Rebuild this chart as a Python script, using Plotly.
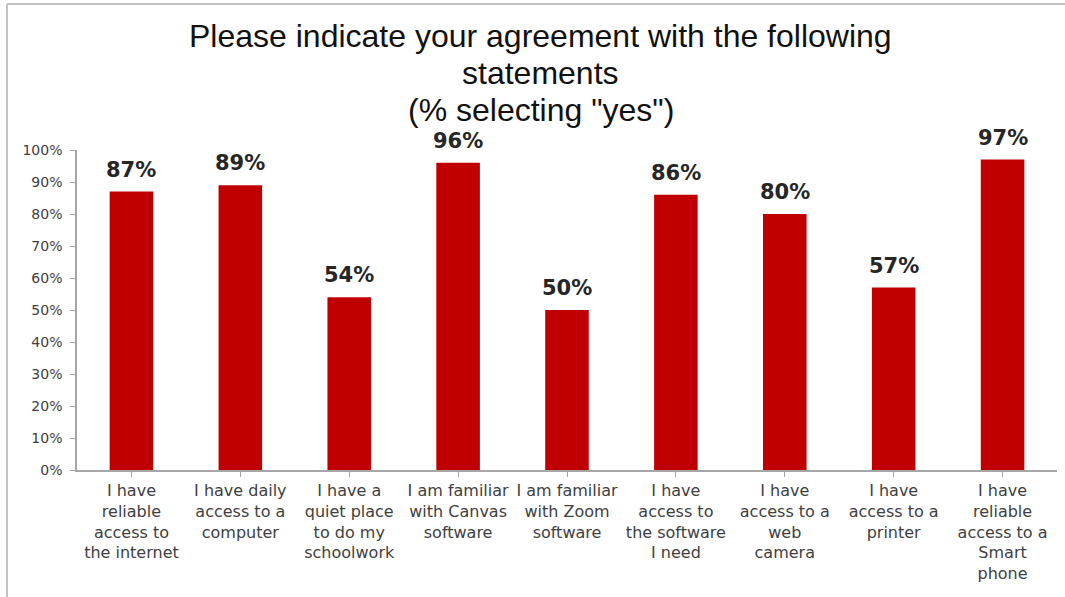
import plotly.graph_objects as go

categories = [
    "I have<br>reliable<br>access to<br>the internet",
    "I have daily<br>access to a<br>computer",
    "I have a<br>quiet place<br>to do my<br>schoolwork",
    "I am familiar<br>with Canvas<br>software",
    "I am familiar<br>with Zoom<br>software",
    "I have<br>access to<br>the software<br>I need",
    "I have<br>access to a<br>web<br>camera",
    "I have<br>access to a<br>printer",
    "I have<br>reliable<br>access to a<br>Smart<br>phone",
]
values = [0.87, 0.89, 0.54, 0.96, 0.50, 0.86, 0.80, 0.57, 0.97]
value_labels = ["87%", "89%", "54%", "96%", "50%", "86%", "80%", "57%", "97%"]
y_tickvals = [i / 10 for i in range(11)]
y_ticktext = [f"{i * 10}%" for i in range(11)]
title_lines = ["Please indicate your agreement with the following",
               "statements",
               "(% selecting \"yes\")"]

xs = list(range(len(categories)))

fig = go.Figure()
fig.add_trace(go.Bar(
    x=xs,
    y=values,
    marker=dict(color="#C00000", line=dict(width=0)),
    width=0.4,
    hoverinfo="skip",
))

for xi, v, lab in zip(xs, values, value_labels):
    fig.add_annotation(x=xi, y=v, text=lab, showarrow=False, xref="x", yref="y",
                       yanchor="bottom", yshift=8,
                       font=dict(family="DejaVu Sans", size=21, color="#262626", weight="bold"))

title_y = [1.355, 1.2406, 1.125]
for line, ty in zip(title_lines, title_y):
    fig.add_annotation(text=line, xref="paper", yref="paper", x=0.473, y=ty,
                       xanchor="center", yanchor="middle", showarrow=False,
                       font=dict(family="Liberation Sans, Arial", size=32, color="#111111"))

fig.update_layout(
    width=1065, height=597,
    margin=dict(l=77, r=8, t=150, b=127),
    paper_bgcolor="white", plot_bgcolor="white",
    showlegend=False,
    xaxis=dict(
        tickmode="array", tickvals=xs, ticktext=categories,
        range=[-0.5, len(categories) - 0.5],
        showline=True, linecolor="#a6a6a6", linewidth=1.5,
        ticks="outside", tickson="boundaries", ticklen=5, tickcolor="#a6a6a6",
        tickfont=dict(family="DejaVu Sans", size=16, color="#404040"),
        tickangle=0, showgrid=False, zeroline=False, automargin=False,
    ),
    yaxis=dict(
        range=[0, 1], tickvals=y_tickvals, ticktext=y_ticktext,
        showline=True, linecolor="#a6a6a6", linewidth=1.5,
        ticks="outside", ticklen=5, tickcolor="#a6a6a6", ticklabelstandoff=5,
        tickfont=dict(family="DejaVu Sans", size=14, color="#404040"),
        showgrid=False, zeroline=False, automargin=False,
    ),
)

# chart border (top and left)
fig.add_shape(type="line", xref="paper", yref="paper", x0=-0.0714, x1=1.01, y0=1.456, y1=1.456,
              line=dict(color="#c4c4c4", width=2))
fig.add_shape(type="line", xref="paper", yref="paper", x0=-0.0714, x1=-0.0714, y0=-0.4, y1=1.456,
              line=dict(color="#c4c4c4", width=2))

fig.write_html("out.html", config={"displayModeBar": False},
               post_script="document.body.style.margin='0';document.body.style.overflow='hidden';")
